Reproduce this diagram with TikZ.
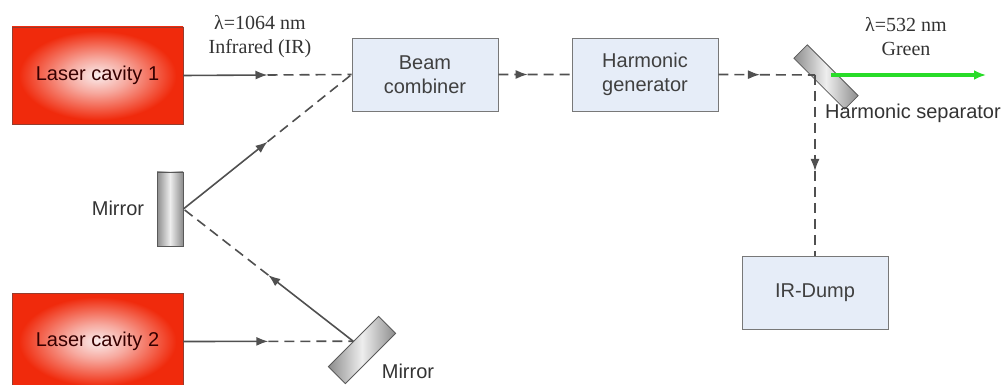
\documentclass[tikz,border=0pt]{standalone}
\usepackage{fontspec}
\setmainfont{Liberation Sans}
\newfontfamily\timesfont{Liberation Serif}
\usetikzlibrary{arrows.meta,calc,shapes}

\definecolor{laserred}{RGB}{240,42,12}
\definecolor{laserglow}{RGB}{250,236,236}
\definecolor{laseredge}{RGB}{150,60,45}
\definecolor{boxfill}{RGB}{230,237,248}
\definecolor{boxedge}{RGB}{120,120,120}
\definecolor{mirrorgray}{RGB}{140,140,140}
\definecolor{mirrorglow}{RGB}{238,238,238}
\definecolor{beamgray}{RGB}{80,80,80}
\definecolor{greenbeam}{RGB}{40,220,40}

\pgfdeclareradialshading{laserspot}{\pgfpoint{0bp}{0bp}}{%
    color(0bp)=(laserglow); color(9bp)=(laserglow!65!laserred);
    color(23bp)=(laserred); color(50bp)=(laserred)}

\tikzset{
    lasercav/.style = {draw=laseredge, shading=laserspot,
        minimum width=85.5pt, minimum height=48.5pt, text=black!70!red!70!black},
    blockbox/.style = {draw=boxedge, fill=boxfill, minimum width=73pt, minimum height=36.5pt,
        align=center, text=black!75},
    mirrorbar/.style n args = {2}{draw=black!65, left color=mirrorgray, right color=mirrorgray,
        middle color=mirrorglow, minimum width=#1, minimum height=#2, inner sep=0pt},
    beam/.style = {draw=beamgray, line width=0.8pt},
    tip/.style = {-{Latex[length=6pt,width=4.5pt]}},
    dashbeam/.style = {beam, dash pattern=on 5pt off 3pt},
    wavelabel/.style = {font=\timesfont, align=center, text=black!80}
}

\begin{document}
\begin{tikzpicture}[x=0.5pt, y=-0.5pt, font=\fontsize{10}{12}\selectfont]
    \useasboundingbox (0,0) rectangle (1008,385);

    \node[lasercav] (cav1) at (97.5,75.5) {Laser cavity 1};
    \node[lasercav] (cav2) at (97.5,341.5) {Laser cavity 2};

    \node[blockbox] (comb) at (425,74.5) {Beam\\combiner};
    \node[blockbox] (harm) at (645,74.5) {Harmonic\\generator};
    \node[blockbox] (dump) at (815,293) {IR-Dump};

    \node[mirrorbar={13pt}{37pt}] (mleft) at (170,209) {};
    \node[mirrorbar={12pt}{35.5pt}, rotate=-45] (mlow) at (362,350) {};
    \node[mirrorbar={9.5pt}{36pt}, rotate=45] (sep) at (826,77) {};
    \coordinate (hit) at (815,75);
    \coordinate (gout) at (831,75);
    \coordinate (gend) at (986,75);

    \node[wavelabel] (irlab) at (260,37) {λ=1064 nm\\Infrared (IR)};
    \node[wavelabel] (grlab) at (906,37) {λ=532 nm\\Green};
    \node[text=black!80] (seplab) at (913,113) {Harmonic separator};
    \node[text=black!80] (mllab) at (118,208) {Mirror};
    \node[text=black!80] (mblab) at (408,371) {Mirror};

    % laser 1 to combiner
    \draw[beam, tip] (cav1.east) -- ($(cav1.east)!0.5!(comb.west)$) coordinate (a1);
    \draw[dashbeam] (a1) -- (comb.west);

    % laser 2 via both mirrors
    \draw[beam, tip] (cav2.east) -- ($(cav2.east)!0.5!(mlow.west)$) coordinate (a2);
    \draw[dashbeam] (a2) -- (mlow.west);
    \draw[beam, tip] (mlow.west) -- ($(mlow.west)!0.5!(mleft.east)$) coordinate (a3);
    \draw[dashbeam] (a3) -- (mleft.east);
    \draw[beam, tip] (mleft.east) -- ($(mleft.east)!0.5!(comb.west)$) coordinate (a4);
    \draw[dashbeam] (a4) -- (comb.west);

    % combined beam
    \draw[dashbeam, tip] (comb.east) -- ($(comb.east)!0.4!(harm.west)$) coordinate (a5);
    \draw[dashbeam] (a5) -- (harm.west);
    \draw[dashbeam, tip] (harm.east) -- ($(harm.east)!0.43!(hit)$) coordinate (a6);
    \draw[dashbeam] (a6) -- (hit);
    \draw[dashbeam, tip] (hit) -- ($(hit)!0.53!(dump.north)$) coordinate (a7);
    \draw[dashbeam] (a7) -- (dump.north);

    \draw[greenbeam, line width=1.6pt, -{Latex[length=6pt,width=5pt]}] (gout) -- (gend);
\end{tikzpicture}
\end{document}
